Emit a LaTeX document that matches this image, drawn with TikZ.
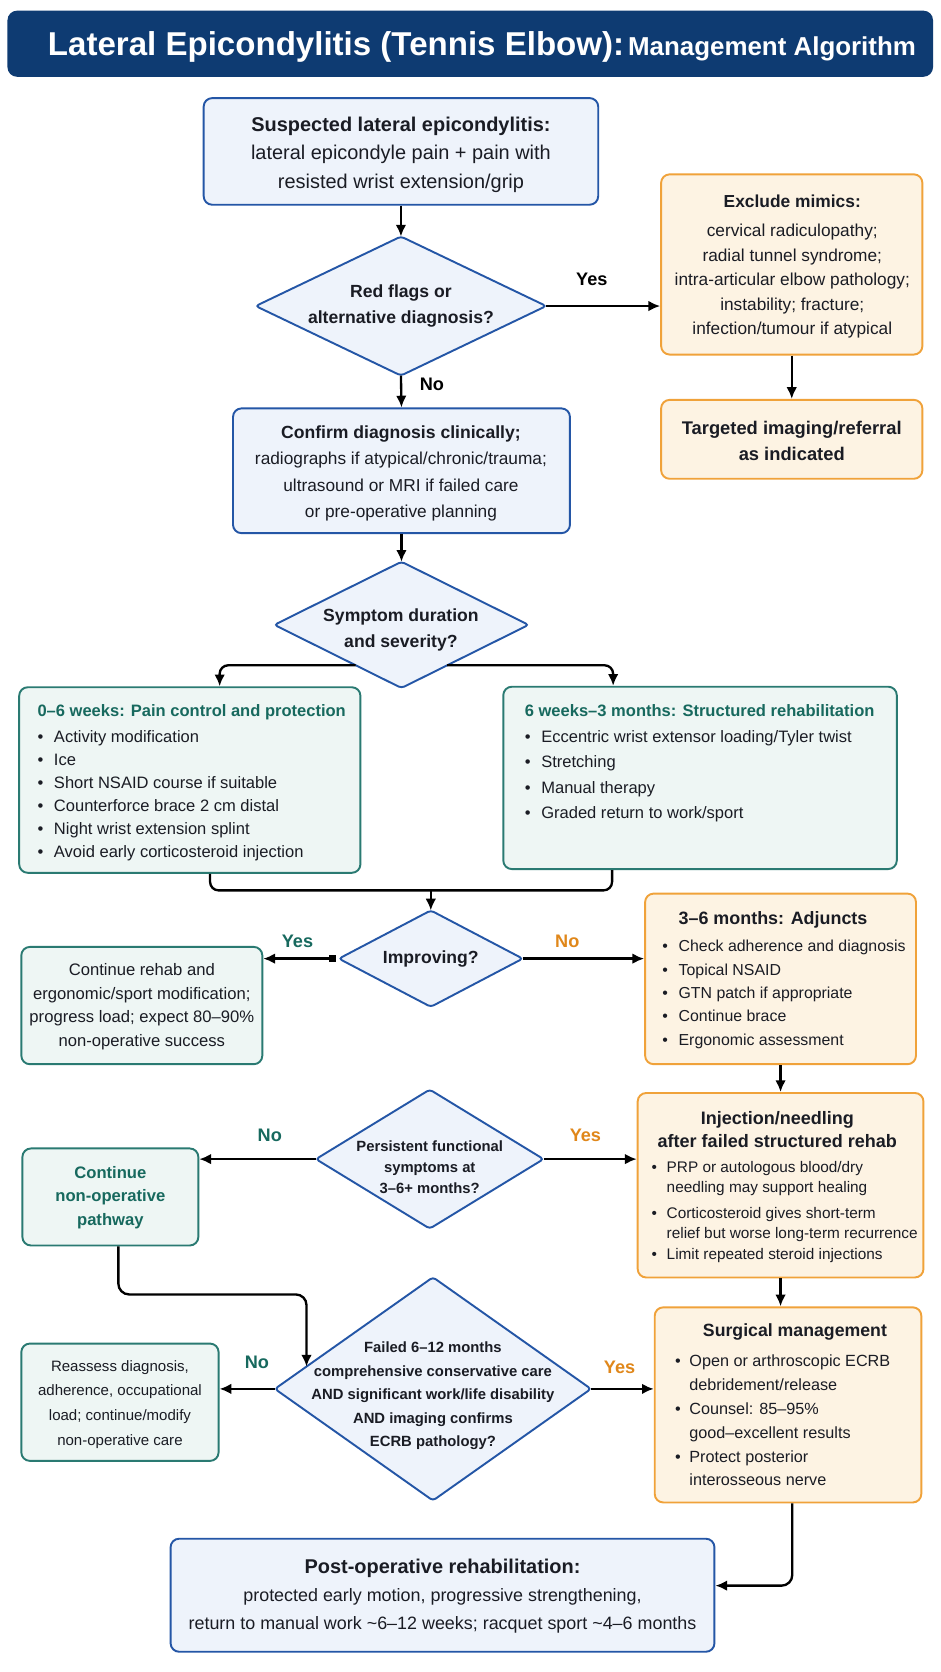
\documentclass[tikz,border=0pt]{standalone}
\usepackage{fontspec}
\setmainfont{Liberation Sans}
\usetikzlibrary{arrows.meta,calc}
\definecolor{navy}{HTML}{0E3B72}
\definecolor{bluebd}{HTML}{2456A6}
\definecolor{bluefill}{HTML}{EEF3FB}
\definecolor{tealbd}{HTML}{2A7A72}
\definecolor{tealtx}{HTML}{17695E}
\definecolor{tealfill}{HTML}{EEF6F4}
\definecolor{orbd}{HTML}{F0A23A}
\definecolor{orfill}{HTML}{FDF3E3}
\definecolor{ortx}{HTML}{E0871A}
\definecolor{ink}{HTML}{1A1C24}
\newcommand{\fs}[2]{\fontsize{#1}{#2}\selectfont}
\newcommand{\bl}{\textbullet}
\begin{document}
\begin{tikzpicture}[x=1pt,y=-1pt,
  box/.style={draw, rounded corners=8pt, line width=1.8pt, inner sep=0pt},
  bluebox/.style={box, draw=bluebd, fill=bluefill},
  tealbox/.style={box, draw=tealbd, fill=tealfill},
  orbox/.style={box, draw=orbd, fill=orfill},
  diabox/.style={draw=none, inner sep=0pt},
  diaedge/.style={draw=bluebd, fill=bluefill, line width=1.8pt, rounded corners=3pt},
  txt/.style={inner sep=0pt, text=ink, align=center},
  lst/.style={inner sep=0pt, text=ink, anchor=base west},
  conn/.style={draw=black, line width=2.2pt},
  arr/.style={conn, -{Latex[length=11pt,width=10pt]}},
  lab/.style={inner sep=0pt, font=\bfseries\fs{17}{17}},
]
\useasboundingbox (0,0) rectangle (882.4,1568);
\fill[white] (0,0) rectangle (882.4,1568);

% title
\node[fill=navy, rounded corners=9pt, minimum width=868pt, minimum height=62pt, inner sep=0pt] (bar) at (441,41) {};
\node[inner sep=0pt, text=white, anchor=base] (ttl) at (452,52) {{\fs{31}{31}\bfseries Lateral Epicondylitis (Tennis Elbow):} {\fs{24.3}{24.3}\bfseries Management Algorithm}};

% boxes
\node[bluebox, minimum width=370pt, minimum height=100pt] (susp) at (376,142) {};
\node[txt, font=\fs{18.7}{26.5}] (susp-t) at (376,145) {\textbf{Suspected lateral epicondylitis:}\\lateral epicondyle pain + pain with\\resisted wrist extension/grip};

\node[diabox, minimum width=272pt, minimum height=130pt] (d1) at (376,287) {};
\draw[diaedge] (d1.north) -- (d1.east) -- (d1.south) -- (d1.west) -- cycle;
\node[txt, font=\bfseries\fs{16.5}{24.5}] (d1-t) at (376,287) {Red flags or\\alternative diagnosis?};

\node[orbox, minimum width=245pt, minimum height=169pt] (ex) at (742.5,248) {};
\node[txt, font=\fs{16.2}{23}] (ex-t) at (743,250) {{\bfseries\fs{16.3}{23}Exclude mimics:}\\[4.6pt]cervical radiculopathy;\\radial tunnel syndrome;\\intra-articular elbow pathology;\\instability; fracture;\\infection/tumour if atypical};

\node[orbox, minimum width=245pt, minimum height=74pt] (tg) at (742.5,412) {};
\node[txt, font=\bfseries\fs{17.2}{24.5}] (tg-t) at (742.5,413.5) {Targeted imaging/referral\\as indicated};

\node[bluebox, minimum width=316pt, minimum height=117pt] (conf) at (376.5,441.5) {};
\node[txt, font=\fs{16.2}{24.7}] (conf-t) at (376,444) {{\bfseries\fs{16.5}{24.7}Confirm diagnosis clinically;}\\radiographs if atypical/chronic/trauma;\\ultrasound or MRI if failed care\\or pre-operative planning};

\node[diabox, minimum width=238pt, minimum height=118pt] (d2) at (376.5,586) {};
\draw[diaedge] (d2.north) -- (d2.east) -- (d2.south) -- (d2.west) -- cycle;
\node[txt, font=\bfseries\fs{16.5}{24.5}] (d2-t) at (376,591) {Symptom duration\\and severity?};

\node[tealbox, minimum width=320pt, minimum height=174pt] (b06) at (178,731.5) {};
\node[lst, font=\fs{15.5}{21.6}] (b06-t) at (35,671.5) {\begin{tabular}[t]{@{}l@{\hspace{10pt}}l@{}}
\multicolumn{2}{@{}l@{}}{\color{tealtx}\bfseries 0–6 weeks: Pain control and protection}\\[3.4pt]
\bl & Activity modification\\
\bl & Ice\\
\bl & Short NSAID course if suitable\\
\bl & Counterforce brace 2 cm distal\\
\bl & Night wrist extension splint\\
\bl & Avoid early corticosteroid injection
\end{tabular}};

\node[tealbox, minimum width=369pt, minimum height=171pt] (b6w) at (656.5,729.5) {};
\node[lst, font=\fs{15.5}{23.6}] (b6w-t) at (492,671.5) {\begin{tabular}[t]{@{}l@{\hspace{10pt}}l@{}}
\multicolumn{2}{@{}l@{}}{\color{tealtx}\bfseries 6 weeks–3 months: Structured rehabilitation}\\[1.4pt]
\bl & Eccentric wrist extensor loading/Tyler twist\\
\bl & Stretching\\
\bl & Manual therapy\\
\bl & Graded return to work/sport
\end{tabular}};

\node[diabox, minimum width=172pt, minimum height=90pt] (d3) at (404,899) {};
\draw[diaedge] (d3.north) -- (d3.east) -- (d3.south) -- (d3.west) -- cycle;
\node[txt, font=\bfseries\fs{16.5}{20}] (d3-t) at (404,899) {Improving?};

\node[tealbox, minimum width=226pt, minimum height=110pt] (cr) at (133,943) {};
\node[txt, font=\fs{15.6}{22}] (cr-t) at (133,944) {Continue rehab and\\ergonomic/sport modification;\\progress load; expect 80–90\%\\non-operative success};

\node[orbox, minimum width=254pt, minimum height=160pt] (adj) at (732,918) {};
\node[lst, font=\fs{14.9}{22}] (adj-t) at (621,867) {\begin{tabular}[t]{@{}l@{\hspace{10pt}}l@{}}
 & {\bfseries\fs{16.8}{22}3–6 months: Adjuncts}\\[3.4pt]
\bl & Check adherence and diagnosis\\
\bl & Topical NSAID\\
\bl & GTN patch if appropriate\\
\bl & Continue brace\\
\bl & Ergonomic assessment
\end{tabular}};

\node[diabox, minimum width=213pt, minimum height=130pt] (d4) at (403,1087) {};
\draw[diaedge] (d4.north) -- (d4.east) -- (d4.south) -- (d4.west) -- cycle;
\node[txt, font=\bfseries\fs{13.9}{19.5}] (d4-t) at (403,1094.5) {Persistent functional\\symptoms at\\3–6+ months?};

\node[tealbox, minimum width=165pt, minimum height=91pt] (cn) at (103.5,1122.5) {};
\node[txt, text=tealtx, font=\bfseries\fs{15.6}{22}] (cn-t) at (103.5,1123) {Continue\\non-operative\\pathway};

\node[orbox, minimum width=268pt, minimum height=173pt] (inj) at (732,1111.5) {};
\node[txt, font=\bfseries\fs{16.9}{21.5}] (inj-h) at (729,1059.5) {Injection/needling\\after failed structured rehab};
\node[lst, font=\fs{14.4}{19.2}] (inj-t) at (611,1099.2) {\begin{tabular}[t]{@{}l@{\hspace{9pt}}l@{}}
\bl & PRP or autologous blood/dry\\
 & needling may support healing\\[4.8pt]
\bl & Corticosteroid gives short-term\\
 & relief but worse long-term recurrence\\[0.8pt]
\bl & Limit repeated steroid injections
\end{tabular}};

\node[diabox, minimum width=296pt, minimum height=209pt] (d5) at (406,1302.5) {};
\draw[diaedge] (d5.north) -- (d5.east) -- (d5.south) -- (d5.west) -- cycle;
\node[txt, font=\bfseries\fs{13.9}{22}] (d5-t) at (406,1309) {Failed 6–12 months\\comprehensive conservative care\\AND significant work/life disability\\AND imaging confirms\\ECRB pathology?};

\node[tealbox, minimum width=185pt, minimum height=110pt] (ra) at (112.5,1315) {};
\node[txt, font=\fs{14.1}{23}] (ra-t) at (112.5,1317) {Reassess diagnosis,\\adherence, occupational\\load; continue/modify\\non-operative care};

\node[orbox, minimum width=250pt, minimum height=183pt] (surg) at (739,1317.5) {};
\node[txt, font=\bfseries\fs{16.6}{20}] (surg-h) at (745.5,1249) {Surgical management};
\node[lst, font=\fs{15.2}{22.4}] (surg-t) at (633,1281.5) {\begin{tabular}[t]{@{}l@{\hspace{8pt}}l@{}}
\bl & Open or arthroscopic ECRB\\
 & debridement/release\\
\bl & Counsel: 85–95\%\\
 & good–excellent results\\
\bl & Protect posterior\\
 & interosseous nerve
\end{tabular}};

\node[bluebox, minimum width=510pt, minimum height=106pt] (post) at (415,1496) {};
\node[txt, font=\fs{16.8}{26.5}] (post-t) at (415,1497) {{\bfseries\fs{18.7}{26.5}Post-operative rehabilitation:}\\protected early motion, progressive strengthening,\\return to manual work \textasciitilde6–12 weeks; racquet sport \textasciitilde4–6 months};

% labels
\node[lab] (l1) at (555,262) {Yes};
\node[lab] (l2) at (405,360) {No};
\node[lab, text=tealtx] (l3) at (279,883) {Yes};
\node[lab, text=ortx] (l4) at (532,883) {No};
\node[lab, text=tealtx] (l5) at (253,1065) {No};
\node[lab, text=ortx] (l6) at (549,1065) {Yes};
\node[lab, text=tealtx] (l7) at (241,1278) {No};
\node[lab, text=ortx] (l8) at (581,1282) {Yes};

% connectors
\draw[arr] (susp.south) -- (d1.north);
\draw[arr] (d1.east) -- (d1.east -| ex.west);
\draw[arr] (ex.south) -- (tg.north);
\draw[arr] (d1.south) -- (conf.north);
\draw[arr] (conf.south) -- (d2.north);
\draw[arr, rounded corners=8pt] ($(d2.south)!0.36!(d2.west)$) -| ([xshift=28pt]b06.north);
\draw[arr, rounded corners=8pt] ($(d2.south)!0.36!(d2.east)$) -| ([xshift=-81.5pt]b6w.north);
\coordinate (j2) at (404,835);
\draw[conn, rounded corners=8pt] ([xshift=19pt]b06.south) |- (j2) -| ([xshift=-82.5pt]b6w.south);
\draw[arr] (j2) -- (d3.north);
\draw[conn, {Square[length=6pt,width=6pt]}-{Latex[length=11pt,width=10pt]}] ([xshift=-3pt]d3.west) -- (d3.west -| cr.east);
\draw[arr] (d3.east) -- (d3.east -| adj.west);
\draw[arr] (adj.south) -- (inj.north);
\draw[arr] (d4.west) -- (d4.west -| cn.east);
\draw[arr] (d4.east) -- (d4.east -| inj.west);
\draw[arr, rounded corners=10pt] ([xshift=7.5pt]cn.south) -- ++(0,45) -| ($(d5.west)!0.2!(d5.north)$);
\draw[arr] (d5.west) -- (d5.west -| ra.east);
\draw[arr] (d5.east) -- (d5.east -| surg.west);
\draw[arr] (inj.south) -- (inj.south |- surg.north);
\draw[arr, rounded corners=10pt] ([xshift=4pt]surg.south) |- ([yshift=9pt]post.east);
\end{tikzpicture}
\end{document}
